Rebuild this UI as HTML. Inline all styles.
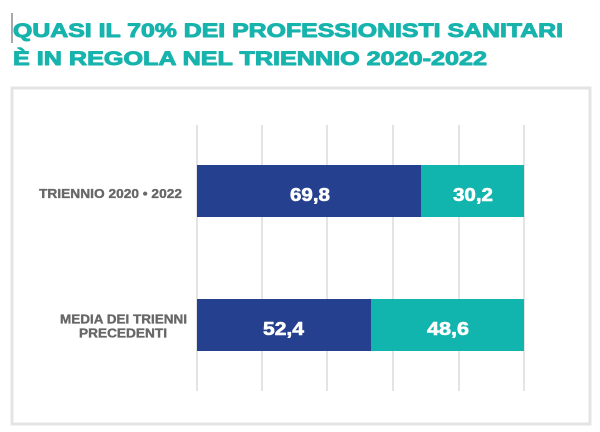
<!DOCTYPE html>
<html>
<head>
<meta charset="utf-8">
<style>
html,body{margin:0;padding:0;background:#fff;}
svg{display:block;}
</style>
</head>
<body>
<svg width="600" height="432" viewBox="0 0 600 432" xmlns="http://www.w3.org/2000/svg">
  <rect x="0" y="0" width="600" height="432" fill="#ffffff"/>
  <!-- cursor bar -->
  <rect x="11.5" y="13" width="1" height="30" fill="#555"/>
  <!-- title -->
  <g font-family="Liberation Sans, sans-serif" font-weight="bold" fill="#17b3ad" stroke="#17b3ad" stroke-width="0.9" stroke-linejoin="round" font-size="19">
    <text x="13" y="37" textLength="550" lengthAdjust="spacingAndGlyphs">QUASI IL 70% DEI PROFESSIONISTI SANITARI</text>
    <text x="13" y="65" textLength="474" lengthAdjust="spacingAndGlyphs">È IN REGOLA NEL TRIENNIO 2020-2022</text>
  </g>
  <!-- frame -->
  <rect x="12" y="88" width="578" height="336" fill="none" stroke="#e4e4e4" stroke-width="3"/>
  <!-- gridlines -->
  <g stroke="#e4e4e4" stroke-width="2">
    <line x1="197" y1="125" x2="197" y2="391"/>
    <line x1="262" y1="125" x2="262" y2="391"/>
    <line x1="327" y1="125" x2="327" y2="391"/>
    <line x1="393" y1="125" x2="393" y2="391"/>
    <line x1="459" y1="125" x2="459" y2="391"/>
    <line x1="524" y1="125" x2="524" y2="391"/>
  </g>
  <!-- bars -->
  <rect x="197" y="165" width="224" height="52" fill="#25408f"/>
  <rect x="421" y="165" width="103" height="52" fill="#12b5ae"/>
  <rect x="197" y="299" width="174" height="52" fill="#25408f"/>
  <rect x="371" y="299" width="153" height="52" fill="#12b5ae"/>
  <!-- value labels -->
  <g font-family="Liberation Sans, sans-serif" font-weight="bold" fill="#ffffff" stroke="#ffffff" stroke-width="0.6" stroke-linejoin="round" font-size="18">
    <text x="290" y="201" textLength="40" lengthAdjust="spacingAndGlyphs">69,8</text>
    <text x="453" y="201" textLength="40" lengthAdjust="spacingAndGlyphs">30,2</text>
    <text x="263" y="335" textLength="41" lengthAdjust="spacingAndGlyphs">52,4</text>
    <text x="427" y="335" textLength="42" lengthAdjust="spacingAndGlyphs">48,6</text>
  </g>
  <!-- category labels -->
  <g font-family="Liberation Sans, sans-serif" font-weight="bold" fill="#676767" stroke="#676767" stroke-width="0.35" stroke-linejoin="round" font-size="12.5">
    <text x="39" y="198" textLength="143" lengthAdjust="spacingAndGlyphs">TRIENNIO 2020 • 2022</text>
    <text x="60" y="323.5" textLength="127" lengthAdjust="spacingAndGlyphs">MEDIA DEI TRIENNI</text>
    <text x="79" y="337.5" textLength="88" lengthAdjust="spacingAndGlyphs">PRECEDENTI</text>
  </g>
</svg>
</body>
</html>
